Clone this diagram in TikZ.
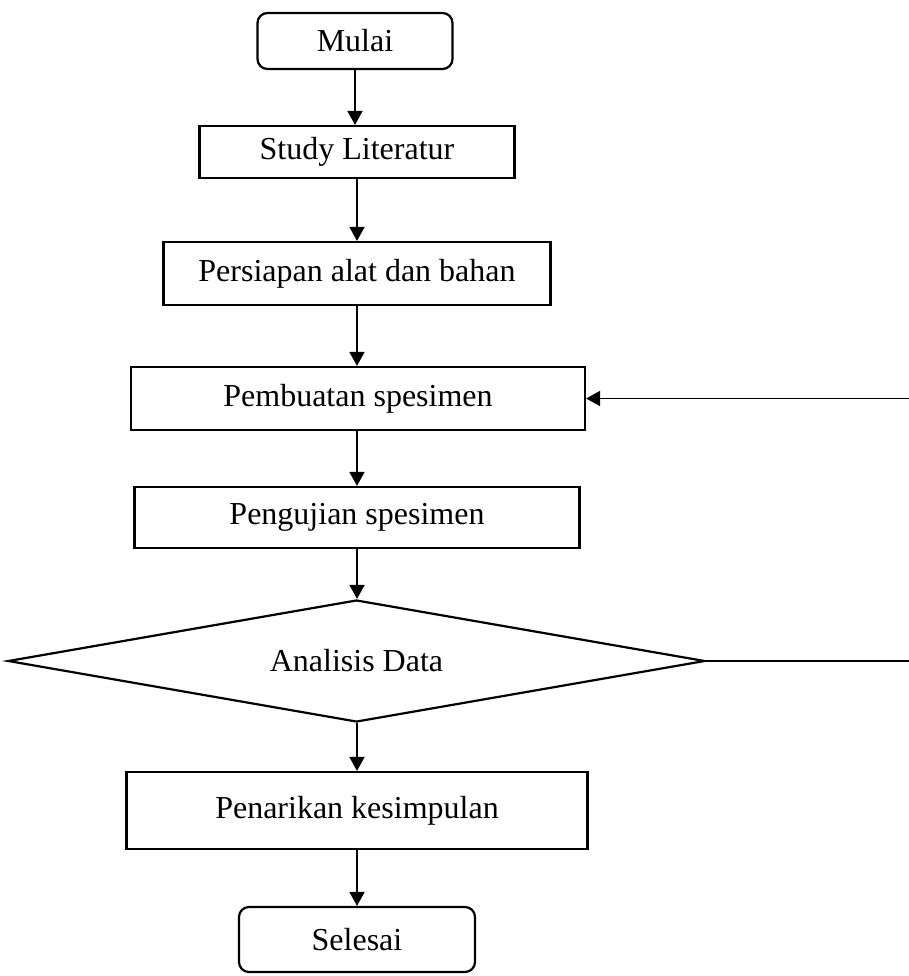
\documentclass[tikz,border=0pt]{standalone}
\usepackage{fontspec}
\setmainfont{Liberation Serif}
\usetikzlibrary{shapes.geometric,arrows.meta}
\begin{document}
\begin{tikzpicture}[x=0.5pt,y=0.5pt,
  base/.style={draw=black,line width=1.1pt,inner sep=0pt,font=\fontsize{16}{19}\selectfont,align=center},
  procbox/.style={base,rectangle},
  termbox/.style={base,rectangle,rounded corners=5pt},
  decbox/.style={base,diamond,aspect=5.713},
  arr/.style={line width=0.9pt,-{Triangle[length=7pt,width=7.5pt]}},
  plain/.style={line width=0.9pt}]
\useasboundingbox (0,0) rectangle (909,-976);
\node[termbox,minimum width=97.5pt,minimum height=28pt] (mulai) at (355,-41) {Mulai};
\node[procbox,minimum width=157.5pt,minimum height=26pt] (study) at (357,-152) {Study Literatur};
\node[procbox,minimum width=193.5pt,minimum height=31.5pt] (persiapan) at (357,-273.5) {Persiapan alat dan bahan};
\node[procbox,minimum width=227pt,minimum height=31.5pt] (pembuatan) at (358,-398.5) {Pembuatan spesimen};
\node[procbox,minimum width=222.5pt,minimum height=30.5pt] (pengujian) at (357,-517.5) {Pengujian spesimen};
\node[decbox,minimum width=348.5pt,minimum height=61pt] (analisis) at (356.5,-661) {Analisis Data};
\node[procbox,minimum width=230.5pt,minimum height=38.5pt] (penarikan) at (357,-810.5) {Penarikan kesimpulan};
\node[termbox,minimum width=118pt,minimum height=32.5pt] (selesai) at (357,-939.5) {Selesai};
\coordinate (r1) at (909,-661);
\coordinate (r2) at (909,-398.5);
\draw[arr] (355,-41 |- mulai.south) -- (355,-41 |- study.north);
\draw[arr] (study.south) -- (persiapan.north);
\draw[arr] (persiapan.south) -- (persiapan.south |- pembuatan.north);
\draw[arr] (pembuatan.south -| pengujian.north) -- (pengujian.north);
\draw[arr] (pengujian.south) -- (pengujian.south |- analisis.north);
\draw[arr] (analisis.south -| penarikan.north) -- (penarikan.north);
\draw[arr] (penarikan.south) -- (selesai.north);
\draw[plain] (analisis.east) -- (r1);
\draw[arr] (r2) -- (pembuatan.east);
\end{tikzpicture}
\end{document}
